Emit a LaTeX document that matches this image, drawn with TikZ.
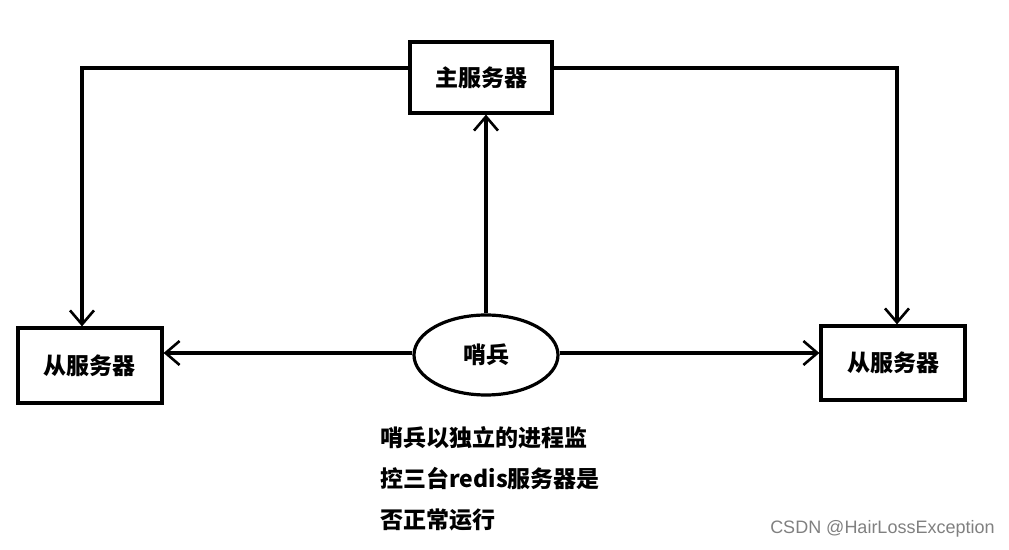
\documentclass[tikz,border=0pt]{standalone}
\usepackage{fontspec}
\setmainfont{Liberation Sans}
\newfontfamily\cjk{Noto Sans CJK SC}
\usetikzlibrary{arrows.meta,shapes.geometric}
\begin{document}
\begin{tikzpicture}[x=0.5pt,y=-0.5pt,
  box/.style={draw,line width=1.6pt,inner sep=0pt,font=\cjk\bfseries\fontsize{11.5}{13}\selectfont},
  conn/.style={line width=1.6pt,-{Straight Barb[length=7pt,width=12pt,line width=1.3pt]}},
  lbl/.style={anchor=west,font=\cjk\bfseries\fontsize{11.5}{13}\selectfont,inner sep=0pt}]
\useasboundingbox (0,0) rectangle (1009,550);
\node[box,minimum width=71pt,minimum height=35.5pt] (m) at (481,77.5) {主服务器};
\node[box,minimum width=72pt,minimum height=37.5pt] (l) at (90,365.5) {从服务器};
\node[box,minimum width=72pt,minimum height=37pt] (r) at (893,363) {从服务器};
\node[box,ellipse,minimum width=72pt,minimum height=40pt] (s) at (486,355) {哨兵};
\coordinate (lc) at (82,68);
\coordinate (rc) at (897,68);
\draw[conn] (m.west|-lc) -- (lc) -- (lc|-l.north);
\draw[conn] (m.east|-rc) -- (rc) -- (rc|-r.north);
\draw[conn] (s.north) -- (s.north|-m.south);
\draw[conn] (s.west|-0,353) -- (l.east|-0,353);
\draw[conn] (s.east|-0,353) -- (r.west|-0,353);
\node[lbl] (t1) at (380,438) {哨兵以独立的进程监};
\node[lbl] (t2) at (380,479) {控三台redis服务器是};
\node[lbl] (t3) at (380,520) {否正常运行};
\node[anchor=east,text=gray,font=\fontsize{9}{11}\selectfont,inner sep=0pt] (w) at (995,529) {CSDN @HairLossException};
\end{tikzpicture}
\end{document}
